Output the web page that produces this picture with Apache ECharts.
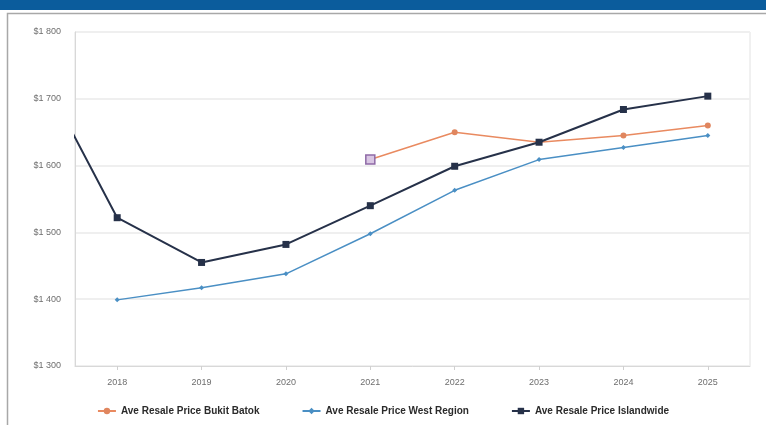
<!DOCTYPE html>
<html>
<head>
<meta charset="utf-8">
<script src="https://cdn.jsdelivr.net/npm/echarts@6/dist/echarts.min.js"></script>
<style>
  html, body { margin: 0; padding: 0; background: #ffffff; }
  #chart { width: 766px; height: 425px; }
</style>
</head>
<body>
<div id="chart"></div>
<script>
// Years shown on the x axis
const years = [2018, 2019, 2020, 2021, 2022, 2023, 2024, 2025];

// Average resale price by year
const bukitBatokYears = [2021, 2022, 2023, 2024, 2025];
const bukitBatok = [1609, 1650, 1635, 1645, 1660];

const westRegionYears = [2018, 2019, 2020, 2021, 2022, 2023, 2024, 2025];
const westRegion = [1399, 1417, 1438, 1498, 1563, 1609, 1627, 1645];

// Islandwide series also carries the 2017 figure, which runs off the left edge
const islandwideYears = [2017, 2018, 2019, 2020, 2021, 2022, 2023, 2024, 2025];
const islandwide = [1762, 1522, 1455, 1482, 1540, 1599, 1635, 1684, 1704];

// Y axis ticks
const yTicks = [1300, 1400, 1500, 1600, 1700, 1800];

const seriesNames = [
  'Ave Resale Price Bukit Batok',
  'Ave Resale Price West Region',
  'Ave Resale Price Islandwide'
];

function pairs(xs, ys) { return xs.map((x, i) => [x, ys[i]]); }

function money(v) {
  const s = String(Math.round(v));
  return '$' + s.slice(0, s.length - 3) + ' ' + s.slice(-3);
}

const bbData = pairs(bukitBatokYears, bukitBatok).map((p, i) => i === 0 ? {
  value: p,
  symbol: 'rect',
  symbolSize: 9,
  itemStyle: { color: '#d9c6e3', borderColor: '#8e6aa6', borderWidth: 1.5 }
} : p);

const chart = echarts.init(document.getElementById('chart'), null, { renderer: 'canvas' });

chart.setOption({
  backgroundColor: '#ffffff',
  animation: false,
  graphic: [
    { type: 'rect', shape: { x: 0, y: 0, width: 766, height: 10 }, style: { fill: '#0b5c9c' }, silent: true },
    { type: 'polyline', shape: { points: [[7.5, 425], [7.5, 13.5], [766, 13.5]] }, style: { stroke: '#a8a8a8', lineWidth: 1.5, fill: null }, silent: true }
  ],
  grid: {
    left: 75, right: 16, top: 32, bottom: 59,
    show: true, borderColor: '#e2e2e2', borderWidth: 1, backgroundColor: 'transparent'
  },
  legend: {
    bottom: 4,
    left: 'center',
    itemGap: 42,
    itemWidth: 18,
    itemHeight: 8,
    textStyle: { fontSize: 10, color: '#2b2b2b', fontWeight: 'bold', fontFamily: 'Liberation Sans, Arial, sans-serif' },
    data: seriesNames
  },
  xAxis: {
    type: 'value',
    min: 2017.5,
    max: 2025.5,
    splitLine: { show: false },
    axisLine: { show: true, lineStyle: { color: '#d8d8d8' } },
    axisTick: { show: true, customValues: years, length: 4, lineStyle: { color: '#d0d0d0' } },
    axisLabel: {
      customValues: years,
      formatter: v => String(v),
      color: '#6e6e6e', fontSize: 9, margin: 12,
      fontFamily: 'Liberation Sans, Arial, sans-serif'
    }
  },
  yAxis: {
    type: 'value',
    min: 1300,
    max: 1800,
    interval: 100,
    axisLine: { show: true, lineStyle: { color: '#d8d8d8' } },
    axisTick: { show: false },
    splitLine: { show: true, lineStyle: { color: '#efefef', width: 2 } },
    axisLabel: {
      formatter: v => money(v),
      color: '#6e6e6e', fontSize: 9, margin: 14,
      fontFamily: 'Liberation Sans, Arial, sans-serif'
    }
  },
  series: [
    {
      name: seriesNames[0],
      type: 'line',
      data: bbData,
      color: '#e98a60',
      symbol: 'circle',
      symbolSize: 6,
      lineStyle: { width: 1.5, color: '#e98a60' },
      itemStyle: { color: '#e0865f' },
      z: 3
    },
    {
      name: seriesNames[1],
      type: 'line',
      data: pairs(westRegionYears, westRegion),
      color: '#3d8cc4',
      symbol: 'diamond',
      symbolSize: 5,
      lineStyle: { width: 1.5, color: '#4a8fc4' },
      itemStyle: { color: '#4a8fc4' },
      z: 2
    },
    {
      name: seriesNames[2],
      type: 'line',
      data: pairs(islandwideYears, islandwide),
      color: '#232f4a',
      symbol: 'rect',
      symbolSize: 7,
      clip: true,
      lineStyle: { width: 2, color: '#263149' },
      itemStyle: { color: '#263149' },
      z: 4
    }
  ]
});
</script>
</body>
</html>
